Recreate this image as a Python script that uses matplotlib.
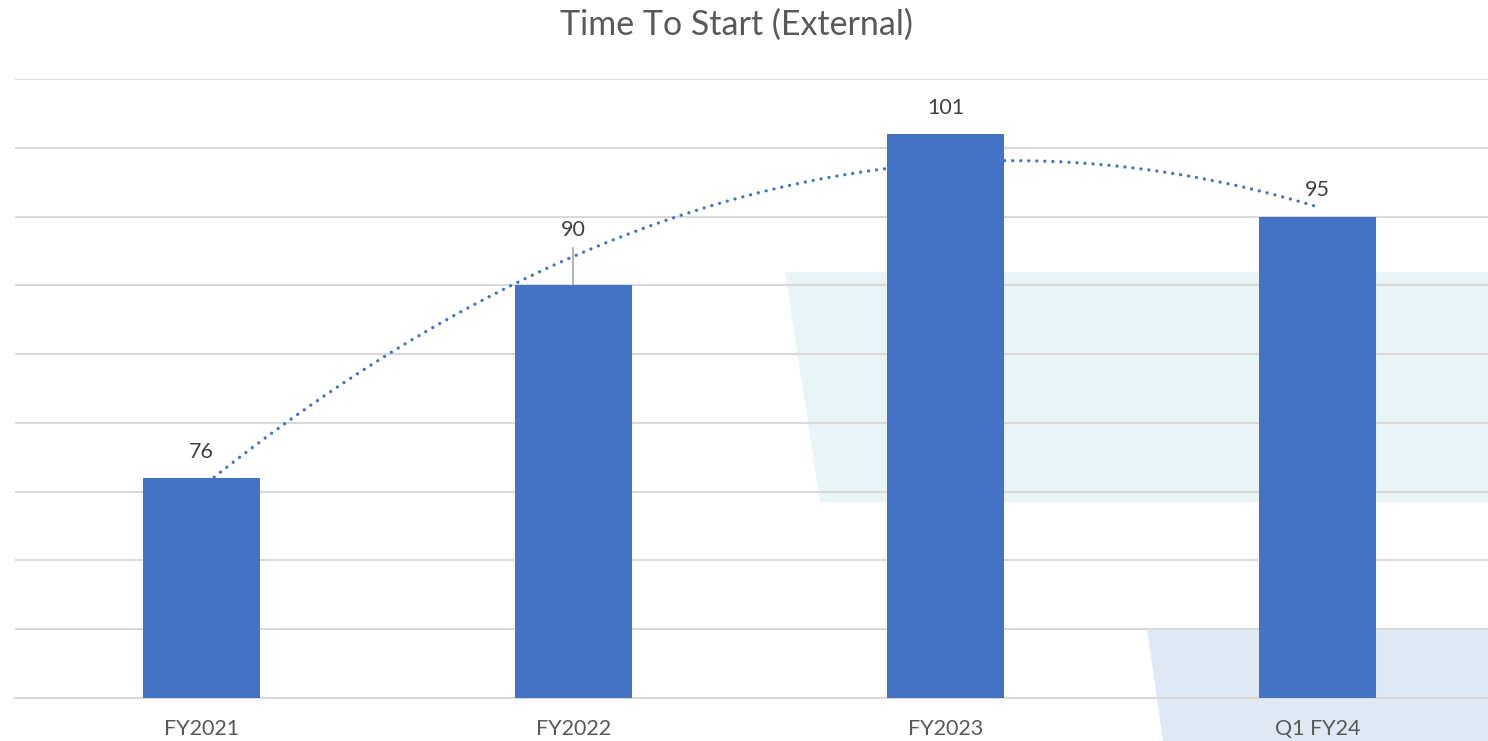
import numpy as np
import matplotlib.pyplot as plt
from matplotlib.patches import Polygon

categories = ["FY2021", "FY2022", "FY2023", "Q1 FY24"]
values = [76, 90, 101, 95]

BAR_COLOR = "#4472C4"
GRID_COLOR = "#D9D9D9"
TEXT_COLOR = "#595959"
LABEL_COLOR = "#404040"

plt.rcParams["font.family"] = ["Lato", "DejaVu Sans"]

W, H = 1488, 741
fig = plt.figure(figsize=(W / 100, H / 100), dpi=100)

# decorative slide shapes behind the chart
fig.patches.append(Polygon([(785 / W, 1 - 272 / H), (1, 1 - 272 / H), (1, 1 - 502 / H), (820 / W, 1 - 502 / H)],
                           closed=True, transform=fig.transFigure, facecolor="#E8F4F5", edgecolor="none", zorder=-1))
fig.patches.append(Polygon([(1147 / W, 1 - 628 / H), (1, 1 - 628 / H), (1, 0), (1163 / W, 0)],
                           closed=True, transform=fig.transFigure, facecolor="#E0E8F3", edgecolor="none", zorder=-1))

ax = fig.add_axes([15 / W, 43 / H, (1504 - 15) / W, (698 - 79) / H])
ax.set_zorder(2)
ax.patch.set_alpha(0)

x = np.arange(len(categories))
ax.bar(x, values, width=0.314, color=BAR_COLOR, zorder=3)

# polynomial (order 2) trendline
coef = np.polyfit(x, values, 2)
xt = np.linspace(x[0] + 0.035, x[-1] - 0.01, 300)
ax.plot(xt, np.polyval(coef, xt), color=BAR_COLOR, linewidth=2.4,
        linestyle=(0, (0.01, 2.4)), dash_capstyle="round", zorder=2)

# data labels
offsets = [1.9, 4.05, 1.9, 1.9]
for xi, v, off in zip(x, values, offsets):
    ax.text(xi, v + off, str(v), ha="center", va="center", fontsize=15.5, color=LABEL_COLOR, zorder=4)
# leader line for the moved label
ax.plot([x[1], x[1]], [values[1], values[1] + 2.75], color="#A6A6A6", linewidth=1.2, zorder=2)

ax.set_xlim(-0.5, 3.5)
ax.set_ylim(60, 105)
ax.set_yticks(np.arange(60, 106, 5))
ax.set_yticklabels([])
ax.tick_params(axis="y", length=0)
ax.grid(axis="y", color=GRID_COLOR, linewidth=1.5, zorder=1)
ax.set_axisbelow(True)
ax.set_xticks(x)
ax.set_xticklabels(categories, fontsize=15.5, color=TEXT_COLOR)
ax.tick_params(axis="x", length=0, pad=15)
for side in ["top", "right", "left"]:
    ax.spines[side].set_visible(False)
ax.spines["bottom"].set_color(GRID_COLOR)
ax.spines["bottom"].set_linewidth(1.5)

fig.text(736 / W, 1 - 25 / H, "Time To Start (External)", ha="center", va="center",
         fontsize=24.5, color=TEXT_COLOR)

fig.savefig("out.png", dpi=100)
